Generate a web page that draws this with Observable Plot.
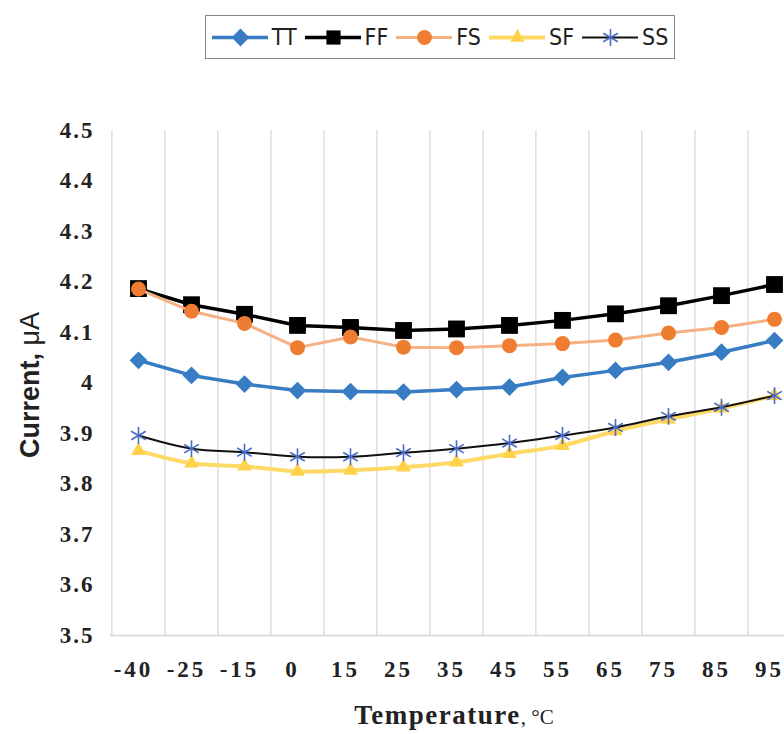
<!DOCTYPE html>
<html><head><meta charset="utf-8">
<script src="https://cdn.jsdelivr.net/npm/d3@7"></script>
<script src="https://cdn.jsdelivr.net/npm/@observablehq/plot@0.6"></script>
<style>
html,body{margin:0;padding:0;background:#fff;overflow:hidden;width:784px;height:734px;}
#legendWrap{position:relative;height:70px;}
#legend{position:absolute;left:205px;top:15px;width:470px;height:44px;border:1.5px solid #8a8a8a;display:flex;align-items:center;justify-content:center;box-sizing:border-box;}
.item{display:flex;align-items:center;margin:0 4px;}
.item span{font-family:"Liberation Sans Narrow","DejaVu Sans Condensed","Liberation Sans",sans-serif;font-size:23px;color:#222;margin-left:4px;}
#chart{width:784px;height:664px;overflow:hidden;}
#chart svg{max-width:none !important;}
</style></head><body>
<div id="legendWrap"><div id="legend"></div></div>
<div id="chart"></div>
<script>
const temps = ["-40","-25","-15","0","15","25","35","45","55","65","75","85","95"];
const yTicks = [3.5,3.6,3.7,3.8,3.9,4.0,4.1,4.2,4.3,4.4,4.5];
const seriesNames = ["TT","FF","FS","SF","SS"];
const TT = [4.045,4.015,3.998,3.985,3.983,3.982,3.987,3.992,4.011,4.025,4.041,4.061,4.084];
const FF = [4.187,4.155,4.136,4.114,4.110,4.104,4.107,4.114,4.124,4.137,4.153,4.173,4.195];
const FS = [4.186,4.142,4.118,4.070,4.091,4.071,4.070,4.074,4.078,4.085,4.099,4.110,4.126];
const SF = [3.866,3.841,3.835,3.825,3.827,3.833,3.843,3.860,3.876,3.905,3.928,3.950,3.975];
const SS = [3.896,3.870,3.863,3.854,3.854,3.862,3.870,3.881,3.896,3.912,3.934,3.952,3.975];

const values = {TT, FF, FS, SF, SS};
const styles = {
  TT: {line:"#387DC4", width:3.5, symbol:"diamond2", r:8, fill:"#387DC4", stroke:"none", curve:"linear"},
  FF: {line:"#000000", width:3.5, symbol:"square", r:9.5, fill:"#000000", stroke:"none", curve:"linear"},
  FS: {line:"#F5B183", width:3, symbol:"circle", r:7.5, fill:"#EE7D31", stroke:"none", curve:"linear"},
  SF: {line:"#FFD966", width:4, symbol:"triangle", r:5.5, fill:"#FFD24A", stroke:"none", curve:"catmull-rom"},
  SS: {line:"#111111", width:2, symbol:"asterisk", r:8, fill:"none", stroke:"#4B6BC6", curve:"catmull-rom"}
};

const rows = seriesNames.flatMap(s => temps.map((t,i) => ({series:s, temp:t, value:values[s][i]})));

// Legend
const legend = document.getElementById("legend");
for (const s of seriesNames) {
  const st = styles[s];
  const sw = Plot.plot({
    width:56, height:24, margin:0,
    x:{domain:[0,1], axis:null}, y:{domain:[0,1], axis:null},
    marks:[
      Plot.ruleY([0.5], {stroke:st.line, strokeWidth:st.width}),
      Plot.dot([0.5], {x:d=>d, y:d=>d, symbol:st.symbol, r:Math.min(st.r, 8),
        fill:st.fill, stroke:st.stroke, strokeWidth: st.stroke==="none"?0:1.6})
    ]
  });
  sw.style.overflow = "visible";
  const item = document.createElement("div");
  item.className = "item";
  item.appendChild(sw);
  const sp = document.createElement("span");
  sp.textContent = s;
  item.appendChild(sp);
  legend.appendChild(item);
}

const W = 802, H = 664, mL = 110, mR = 0, mT = 60, mB = 99;
const step = (W - mL - mR) / temps.length;

const marks = [
  Plot.ruleX(temps, {x:d=>d, dx:-step/2, stroke:"#d6d6d6", strokeWidth:1.2}),
  Plot.ruleY([3.5], {stroke:"#d6d6d6", strokeWidth:1.5})
];
for (const s of seriesNames) {
  const st = styles[s];
  const d = rows.filter(r => r.series === s);
  marks.push(Plot.line(d, {x:"temp", y:"value", stroke:st.line, strokeWidth:st.width, curve:st.curve}));
  marks.push(Plot.dot(d, {x:"temp", y:"value", symbol:st.symbol, r:st.r, fill:st.fill,
    stroke:st.stroke, strokeWidth: st.stroke==="none"?0:1.6}));
}

const chart = Plot.plot({
  width:W, height:H, marginLeft:mL, marginRight:mR, marginTop:mT, marginBottom:mB,
  style:{background:"#fff", overflow:"visible", maxWidth:"none"},
  x:{type:"point", domain:temps, padding:0.5, tickSize:0, tickPadding:25, label:null},
  y:{domain:[3.5,4.5], ticks:yTicks, tickFormat:d=>String(+d.toFixed(1)), tickSize:0, tickPadding:18, label:null},
  marks
});
document.getElementById("chart").appendChild(chart);

const svg = d3.select(chart);
const serif = "'Liberation Serif','Times New Roman',serif";
svg.selectAll('g[aria-label^="x-axis"] text')
  .style("font-family", serif).style("font-weight","bold").style("font-size","23px")
  .attr("fill","#222").attr("letter-spacing","3px").attr("dx","-5px");
svg.selectAll('g[aria-label^="y-axis"] text')
  .style("font-family", serif).style("font-weight","bold").style("font-size","23px")
  .attr("fill","#222").attr("letter-spacing","2px").attr("dx","2px");

// Axis titles
const yt = svg.append("text")
  .attr("transform","translate(39,315) rotate(-90)")
  .attr("text-anchor","middle")
  .style("font-family","'Liberation Sans',Arial,sans-serif")
  .style("font-weight","bold").style("font-size","27px").attr("fill","#222");
yt.append("tspan").text("Current, ");
yt.append("tspan").style("font-weight","normal").text("μA");

const xt = svg.append("text")
  .attr("x",454).attr("y",654)
  .attr("text-anchor","middle")
  .style("font-family", serif)
  .attr("fill","#222");
xt.append("tspan").style("font-weight","bold").style("font-size","27px").attr("letter-spacing","1.5px").text("Temperature");
xt.append("tspan").style("font-weight","normal").style("font-size","21px").text(", °C");
</script>
</body></html>
